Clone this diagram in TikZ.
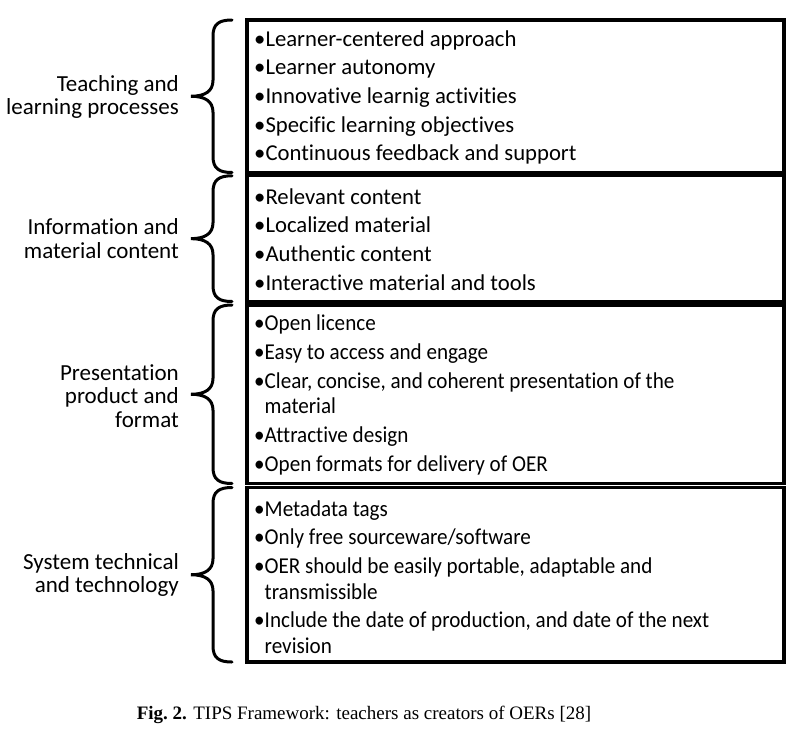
\documentclass[tikz,border=0pt]{standalone}
\usepackage{fontspec}
\setmainfont{Carlito}[Ligatures=NoCommon]
\newfontfamily\condfont{Carlito}[Ligatures=NoCommon, FakeStretch=0.93]
\newfontfamily\capfont{Liberation Serif}
\begin{document}
\begin{tikzpicture}[x=1pt,y=-1pt]
\useasboundingbox[fill=white] (0,0) rectangle (800,737);
\tikzset{
 boxframe/.style={draw, line width=3.3pt},
 boxtext/.style={anchor=west, align=left, inner sep=0pt, font=\condfont\fontsize{22.7}{25.5}\selectfont},
 bigboxtext/.style={boxtext, font=\fontsize{22.7}{25.5}\selectfont},
 lab/.style={anchor=east, align=right, inner sep=0pt, font=\fontsize{23}{23.5}\selectfont},
 bracepath/.style={line width=3pt, line cap=round},
 captext/.style={inner sep=0pt, font=\capfont\fontsize{19}{21}\selectfont}
}
\newcommand{\bracefrom}[2]{%
 \draw[bracepath] (232,#1) .. controls (219,#1) and (213,#1+4) .. (213,#1+16)
   -- ({213},{(#1+#2)/2-16}) .. controls ({213},{(#1+#2)/2-5}) and ({205},{(#1+#2)/2}) .. ({191},{(#1+#2)/2})
   .. controls ({205},{(#1+#2)/2}) and ({213},{(#1+#2)/2+5}) .. ({213},{(#1+#2)/2+16})
   -- (213,#2-16) .. controls (213,#2-4) and (219,#2) .. (232,#2);}
\def\ind{\hphantom{•}}
\def\gap{\\[3.2pt]}
% frames
\draw[boxframe] (247,20) rectangle (784,172.5);
\draw[boxframe] (247,175.8) rectangle (784,301.5);
\draw[boxframe] (247,305) rectangle (784,483.5);
\draw[boxframe] (247,487.5) rectangle (784,662);
% braces
\bracefrom{20}{172.5}
\bracefrom{175.8}{301.5}
\bracefrom{305}{483.5}
\bracefrom{487.5}{662}
% box texts
\node[bigboxtext] (t1) at (254,97.5) {•Learner-centered approach\gap •Learner autonomy\gap •Innovative learnig activities\gap •Specific learning objectives\gap •Continuous feedback and support};
\node[bigboxtext] (t2) at (254,239.5) {•Relevant content\gap •Localized material\gap •Authentic content\gap •Interactive material and tools};
\node[boxtext] (t3) at (254,395) {•Open licence\gap •Easy to access and engage\gap •Clear, concise, and coherent presentation of the\\\ind material\gap •Attractive design\gap •Open formats for delivery of OER};
\node[boxtext] (t4) at (254,577) {•Metadata tags\gap •Only free sourceware/software\gap •OER should be easily portable, adaptable and\\\ind transmissible\gap •Include the date of production, and date of the next\\\ind revision};
% labels
\node[lab] (l1) at (179,97) {Teaching and\\learning processes};
\node[lab] (l2) at (179,238.5) {Information and\\material content};
\node[lab] (l3) at (179,396) {Presentation\\product and\\format};
\node[lab] (l4) at (179,575) {System technical\\and technology};
% caption
\node[captext] (captn) at (364,715) {\textbf{Fig.~2.} TIPS Framework: teachers as creators of OERs [28]};
\end{tikzpicture}
\end{document}
